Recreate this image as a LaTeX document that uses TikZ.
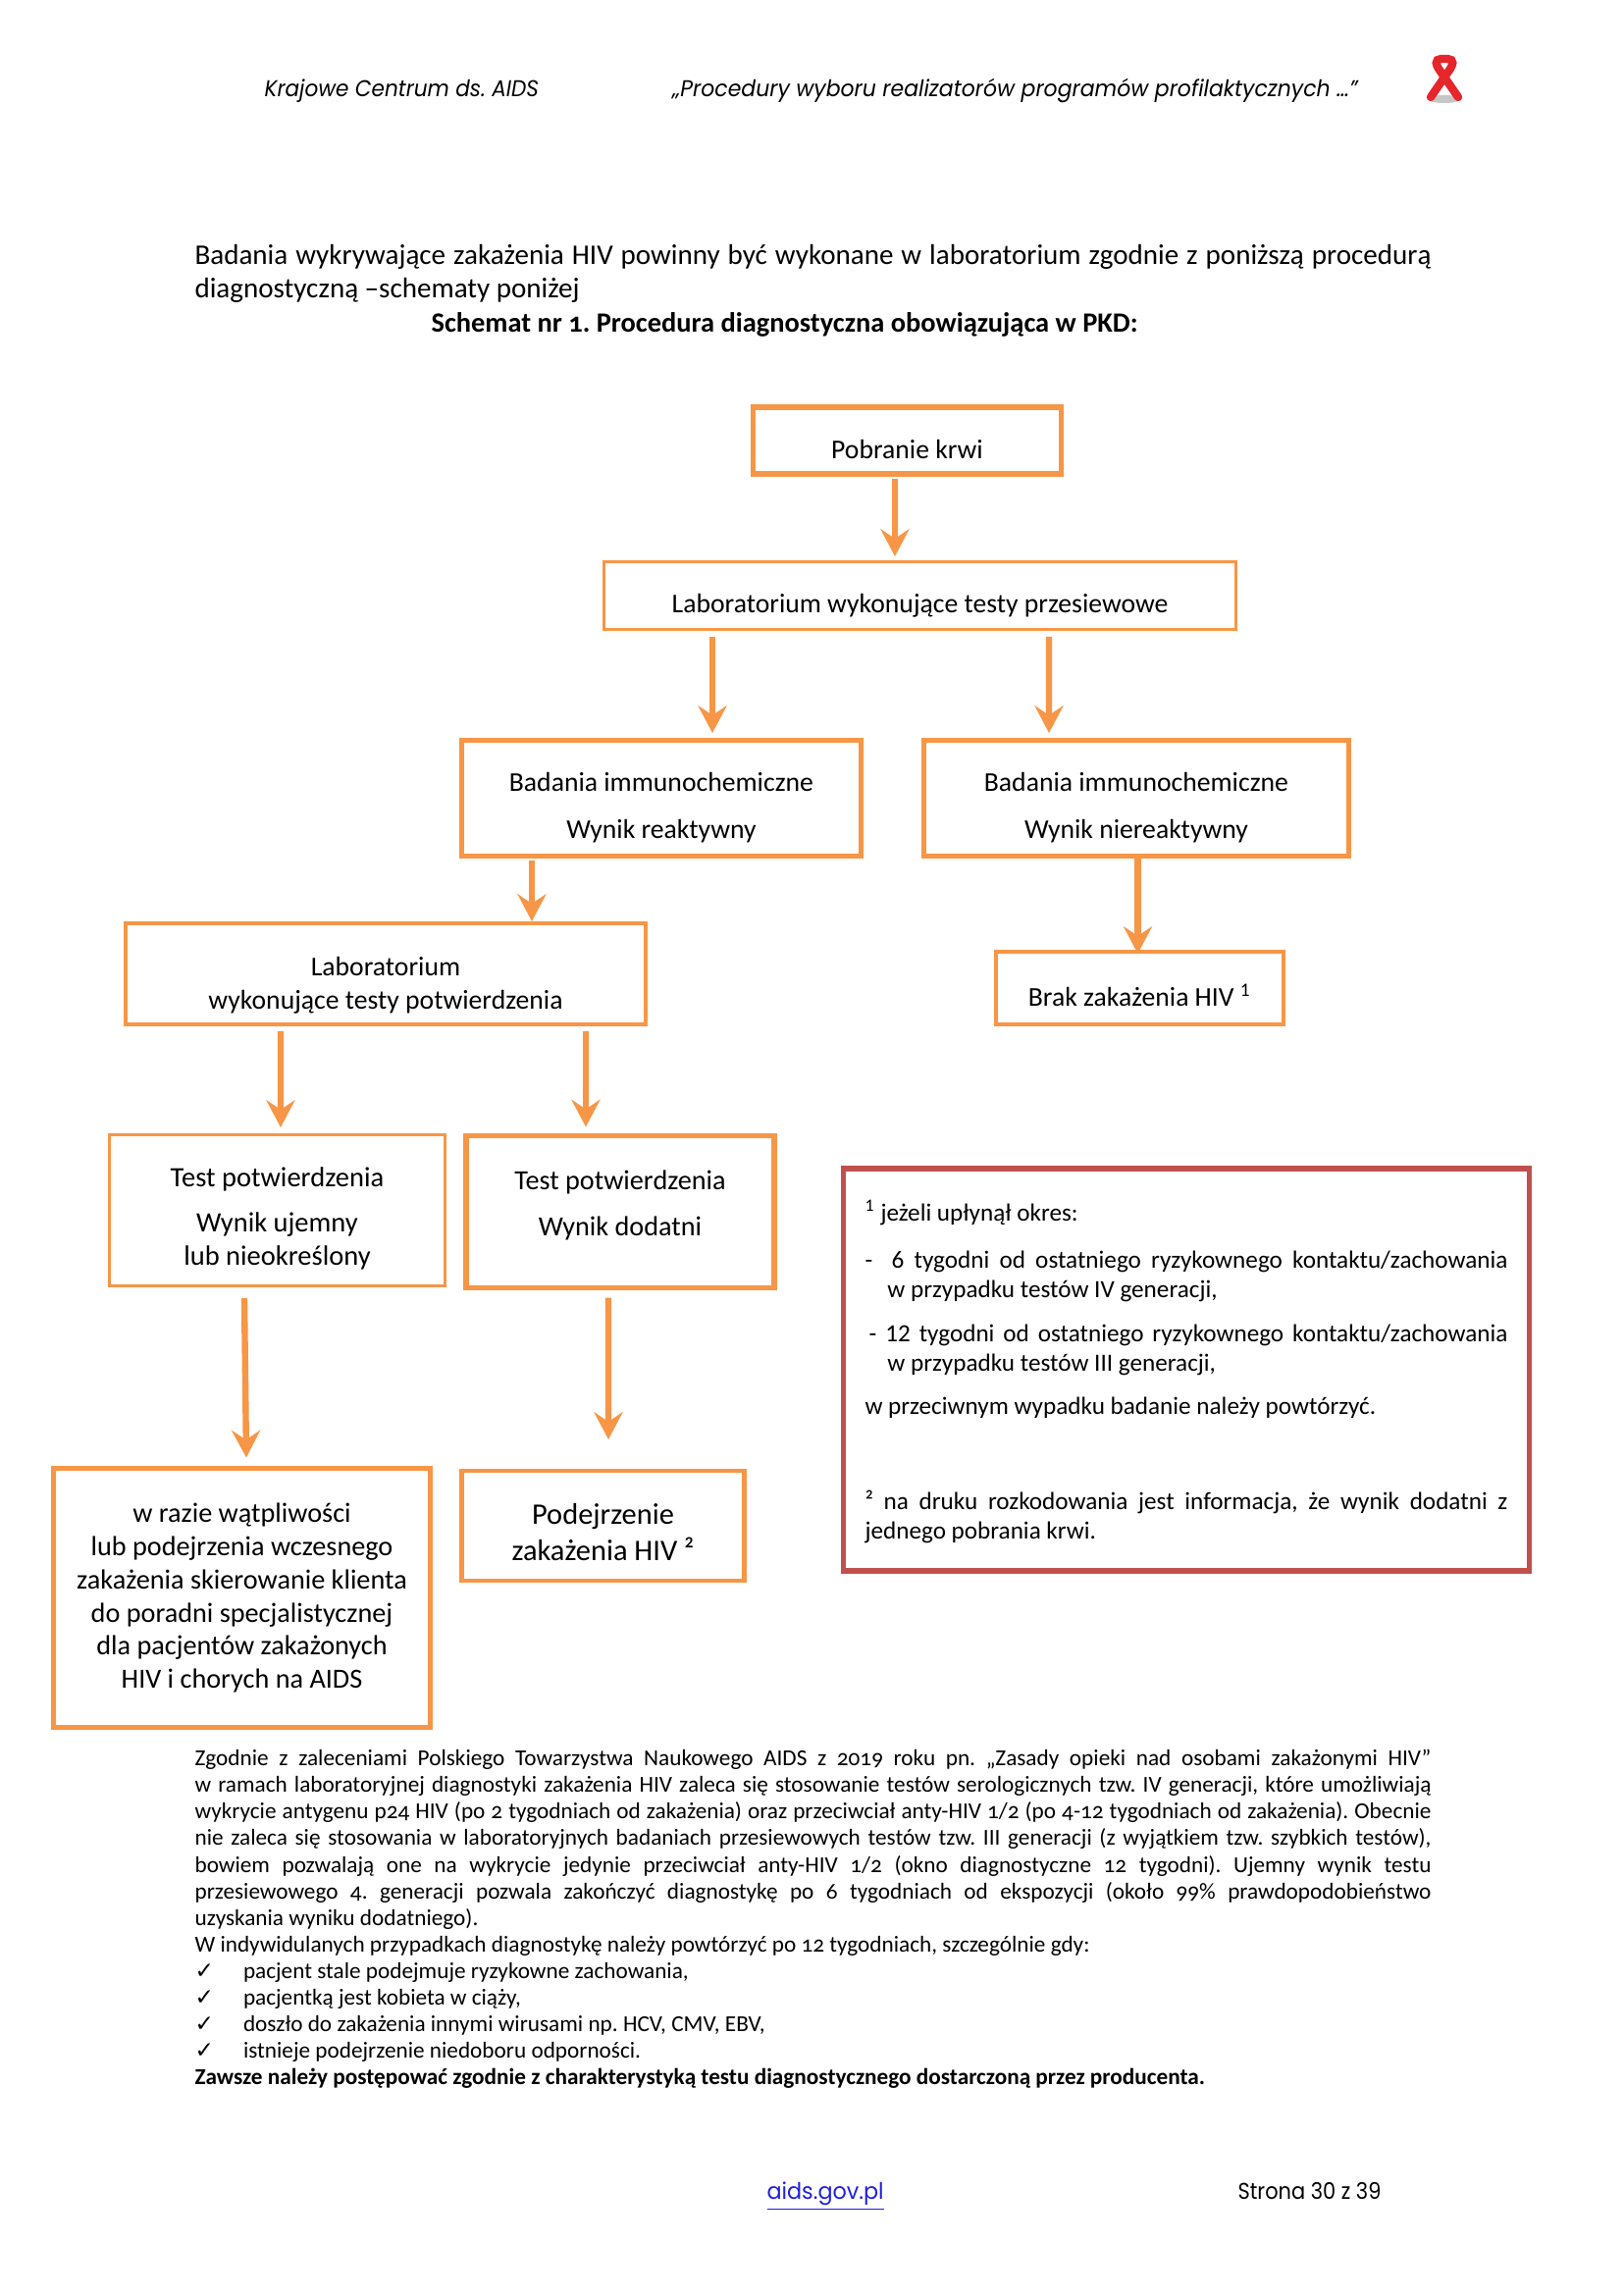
\documentclass[tikz,border=0pt]{standalone}
\usepackage{fontspec}
\usepackage{xcolor}
\usetikzlibrary{arrows.meta}
\setmainfont{Carlito}
\newfontfamily\bodyfont[Numbers=OldStyle]{Carlito}
\newfontfamily\headfont{Poppins}
\newfontfamily\checkfont{DejaVu Sans}
\definecolor{flow}{HTML}{F79646}
\definecolor{note}{HTML}{C0504D}
\definecolor{ribbon}{HTML}{E5262B}
\definecolor{link}{HTML}{1F1FE0}
\newcommand{\firstline}[1]{\rule{0pt}{#1pt}}

\tikzset{
  flowbox/.style 2 args={draw=flow,fill=white,align=center,inner sep=0pt,outer sep=0pt,
    minimum width=#1*0.36bp,minimum height=#2*0.36bp,font=\fontsize{10}{12.2}\selectfont},
  thinline/.style={line width=1.1bp},
  midline/.style={line width=1.45bp},
  wideline/.style={line width=1.9bp},
  flowarrow/.style={draw=flow,line width=2.3bp,-{Stealth[length=10bp,width=10.5bp,inset=3.5bp]}},
  pagetext/.style={anchor=base west,inner sep=0pt,font=\fontsize{#1}{#1}\selectfont},
}

\begin{document}
\frenchspacing
\begin{tikzpicture}[x=0.36bp,y=-0.36bp]
  \useasboundingbox (0,0) rectangle (1654,2339);
  % header
  \node[pagetext=8.4] (headleft) at (269,98.5) {\headfont\itshape\addfontfeature{FakeStretch=0.93}Krajowe Centrum ds. AIDS};
  \node[pagetext=8.4] (headright) at (685,98.5) {\headfont\itshape\addfontfeature{FakeStretch=0.945}„Procedury wyboru realizatorów programów profilaktycznych …”};
  \fill[gray!45] (1472,101) ellipse (17 and 4);
  \draw[ribbon,line width=3bp,line cap=round] (1458,99) -- (1478,70) .. controls (1484,60) and (1477,60) .. (1472,60) .. controls (1467,60) and (1460,60) .. (1466,70) -- (1486,99);
  % intro
  \node[anchor=north west,inner sep=0pt,text width=453.6bp,align=justify,font=\fontsize{10.5}{12.3}\selectfont] (intro) at (198,249)
    {\bodyfont Badania wykrywające zakażenia HIV powinny być wykonane w laboratorium zgodnie z poniższą procedurą\linebreak diagnostyczną –schematy poniżej};
  \node[pagetext=10.27] (title) at (439,339) {\bodyfont\bfseries Schemat nr 1. Procedura diagnostyczna obowiązująca w PKD:};
  % flow boxes
  \node[flowbox={314}{68},wideline,text height=13.4pt] (pobranie) at (924.5,449) {Pobranie krwi};
  \node[flowbox={644}{69},thinline,text height=14.6pt] (przesiew) at (937.5,607) {Laboratorium wykonujące testy przesiewowe};
  \node[flowbox={407}{118},wideline] (reaktywny) at (674,813.5) {\firstline{14}Badania immunochemiczne\\[5.3pt] Wynik reaktywny};
  \node[flowbox={433}{118},wideline] (niereaktywny) at (1158,813.5) {\firstline{14}Badania immunochemiczne\\[5.3pt] Wynik niereaktywny};
  \node[flowbox={530}{103},midline] (potwierdzenie) at (393,992.5) {\firstline{15.4}Laboratorium\\ wykonujące testy potwierdzenia};
  \node[flowbox={293}{74},midline,text height=13.4pt] (brak) at (1161.5,1007) {Brak zakażenia HIV \textsuperscript{1}};
  \node[flowbox={342}{154},thinline,font=\fontsize{10.3}{12.2}\selectfont] (ujemny) at (282.5,1233.5) {\firstline{13.3}Test potwierdzenia\\[4.5pt] Wynik ujemny\\ lub nieokreślony};
  \node[flowbox={314}{155},wideline,text depth=6.4pt,font=\fontsize{10.2}{12.2}\selectfont] (dodatni) at (632,1235) {Test potwierdzenia\\[4.6pt] Wynik dodatni};
  \node[flowbox={384}{264},wideline,text depth=1.5pt,font=\fontsize{10.2}{12.2}\selectfont] (watpliwosci) at (246.5,1628.5) {w razie wątpliwości\\ lub podejrzenia wczesnego\\ zakażenia skierowanie klienta\\ do poradni specjalistycznej\\ dla pacjentów zakażonych\\ HIV i chorych na AIDS};
  \node[flowbox={288}{112},midline,font=\fontsize{11}{13.4}\selectfont] (podejrzenie) at (614.5,1555) {\firstline{12.5}Podejrzenie\\ zakażenia HIV ²};
  % footnote box
  \node[draw=note,wideline,inner sep=0pt,outer sep=0pt,minimum width=251.6bp,minimum height=147.6bp,text width=235.8bp,align=justify,font=\fontsize{9.1}{10.8}\selectfont] (uwagi) at (1209,1396) {%
    \firstline{9.2}\textsuperscript{1} jeżeli upłynął okres:\par\vspace{6.4pt}
    \noindent -\hspace{7pt}6 tygodni od ostatniego ryzykownego kontaktu/zachowania\linebreak
    \hspace*{8.3pt}w przypadku testów IV generacji,\par\vspace{5.4pt}
    \noindent\hspace*{1.5pt}- 12 tygodni od ostatniego ryzykownego kontaktu/zachowania\linebreak
    \hspace*{8.3pt}w przypadku testów III generacji,\par\vspace{5.4pt}
    \noindent w przeciwnym wypadku badanie należy powtórzyć.\par\vspace{24pt}
    \noindent ² na druku rozkodowania jest informacja, że wynik dodatni z\linebreak
    jednego pobrania krwi.};
  % arrows
  \draw[flowarrow] ([shift={(-12.5,5)}]pobranie.south) -- ([shift={(-25.5,-5.5)}]przesiew.north);
  \draw[flowarrow] ([shift={(-211.5,7.5)}]przesiew.south) -- ([shift={(52,-7.5)}]reaktywny.north);
  \draw[flowarrow] ([shift={(131.5,7.5)}]przesiew.south) -- ([shift={(-89,-7.5)}]niereaktywny.north);
  \draw[flowarrow] ([shift={(-132,4.5)}]reaktywny.south) -- ([shift={(149,-2)}]potwierdzenie.north);
  \draw[flowarrow] ([shift={(1.5,2.5)}]niereaktywny.south) -- ([shift={(-2,2)}]brak.north);
  \draw[flowarrow] ([shift={(-107,7)}]potwierdzenie.south) -- ([shift={(3.5,-7.5)}]ujemny.north);
  \draw[flowarrow] ([shift={(204,7)}]potwierdzenie.south) -- ([shift={(-35,-9)}]dodatni.north);
  \draw[flowarrow] ([shift={(-33.5,12.5)}]ujemny.south) -- ([shift={(4.5,-11)}]watpliwosci.north);
  \draw[flowarrow] ([shift={(-12,10)}]dodatni.south) -- ([shift={(5.5,-32)}]podejrzenie.north);
  % closing text
  \node[anchor=north west,inner sep=0pt,text width=453.6bp,align=justify,font=\fontsize{8.4}{9.76}\selectfont] (zalecenia) at (198,1783) {\bodyfont
    Zgodnie z zaleceniami Polskiego Towarzystwa Naukowego AIDS z 2019 roku pn. „Zasady opieki nad osobami zakażonymi HIV”\linebreak
    w ramach laboratoryjnej diagnostyki zakażenia HIV zaleca się stosowanie testów serologicznych tzw. IV generacji, które umożliwiają\linebreak
    wykrycie antygenu p24 HIV (po 2 tygodniach od zakażenia) oraz przeciwciał anty-HIV 1/2 (po 4-12 tygodniach od zakażenia). Obecnie\linebreak
    nie zaleca się stosowania w laboratoryjnych badaniach przesiewowych testów tzw. III generacji (z wyjątkiem tzw. szybkich testów),\linebreak
    bowiem pozwalają one na wykrycie jedynie przeciwciał anty-HIV 1/2 (okno diagnostyczne 12 tygodni). Ujemny wynik testu\linebreak
    przesiewowego 4. generacji pozwala zakończyć diagnostykę po 6 tygodniach od ekspozycji (około 99\% prawdopodobieństwo\linebreak
    uzyskania wyniku dodatniego).\par
    \noindent W indywidulanych przypadkach diagnostykę należy powtórzyć po 12 tygodniach, szczególnie gdy:\par
    \noindent\makebox[17.8bp][l]{\checkfont ✓}pacjent stale podejmuje ryzykowne zachowania,\par
    \noindent\makebox[17.8bp][l]{\checkfont ✓}pacjentką jest kobieta w ciąży,\par
    \noindent\makebox[17.8bp][l]{\checkfont ✓}doszło do zakażenia innymi wirusami np. HCV, CMV, EBV,\par
    \noindent\makebox[17.8bp][l]{\checkfont ✓}istnieje podejrzenie niedoboru odporności.\par
    \noindent\textbf{Zawsze należy postępować zgodnie z charakterystyką testu diagnostycznego dostarczoną przez producenta.}};
  % footer
  \node[pagetext=8.4,text=link] (www) at (781,2241) {\headfont\addfontfeature{FakeStretch=0.96}\underline{aids.gov.pl}};
  \node[pagetext=8.4] (strona) at (1261,2241) {\headfont\addfontfeature{FakeStretch=0.9}Strona 30 z 39};
\end{tikzpicture}
\end{document}
